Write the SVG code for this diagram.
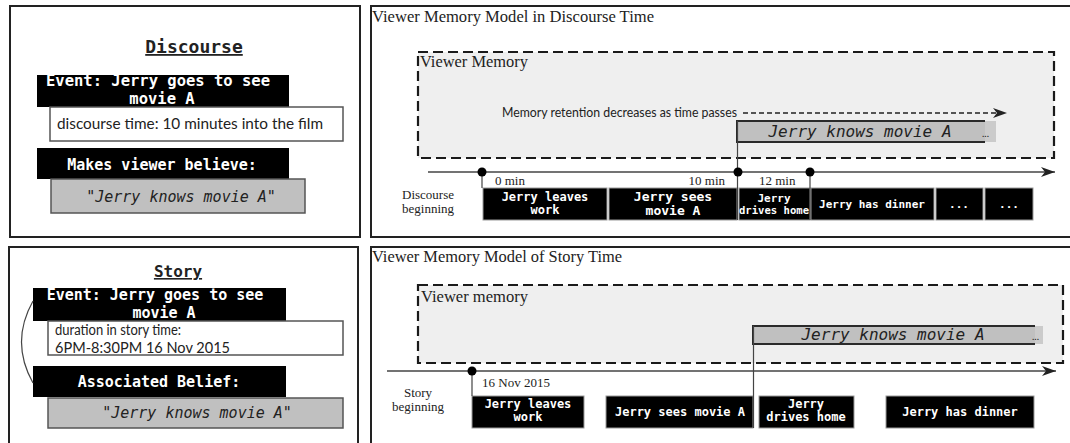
<svg xmlns="http://www.w3.org/2000/svg" width="1070" height="443" viewBox="0 0 1070 443">
<style>
.panel{fill:#fff;stroke:#222;stroke-width:2}
.blk{fill:#000;stroke:#9a9a9a;stroke-width:1}
.wbox{fill:#fff;stroke:#555;stroke-width:1.5}
.gbox{fill:#c0c0c0;stroke:#555;stroke-width:1.5}
.mem{fill:#efefef;stroke:#1a1a1a;stroke-width:2.2;stroke-dasharray:10 5}
.bar{fill:#c0c0c0}
.barx{fill:#cbcbcb}
.barb{fill:none;stroke:#2a2a2a;stroke-width:2}
.mono{font-family:"DejaVu Sans Mono","Liberation Mono",monospace;font-weight:bold;fill:#fff}
.it{font-family:"DejaVu Sans Mono","Liberation Mono",monospace;font-style:italic;fill:#222}
.head{font-family:"DejaVu Sans Mono","Liberation Mono",monospace;font-weight:bold;fill:#222;text-decoration:underline}
.sans{font-family:Lato,"Liberation Sans",sans-serif;fill:#222}
.ser{font-family:"Liberation Serif","DejaVu Serif",serif;fill:#222}
.tl{stroke:#444;stroke-width:1.5;fill:none}
.vl{stroke:#444;stroke-width:1.2;fill:none}
.dot{fill:#000}
.c{text-anchor:middle}
</style>
<defs>
<marker id="ah" markerUnits="userSpaceOnUse" markerWidth="15" markerHeight="10" refX="14" refY="5" orient="auto">
<path d="M0,0 L14,5 L0,10 L4,5 z" fill="#222"/>
</marker>
</defs>

<!-- Top-left: Discourse -->
<g id="discourse-panel">
<rect class="panel" x="10" y="6" width="350" height="231"/>
<text class="head c" x="194" y="53" font-size="18">Discourse</text>
</g>
<g id="discourse-event">
<rect x="37" y="75" width="252" height="32" fill="#000"/>
<text class="mono c" x="158" y="86" font-size="15.5">Event: Jerry goes to see</text>
<text class="mono c" x="162" y="103.5" font-size="15.5">movie A</text>
</g>
<g id="discourse-time">
<rect class="wbox" x="50" y="107" width="293" height="34"/>
<text class="sans" x="57" y="129" font-size="14.5" textLength="266" lengthAdjust="spacingAndGlyphs">discourse time: 10 minutes into the film</text>
</g>
<g id="discourse-makes">
<rect x="37" y="148" width="252" height="31" fill="#000"/>
<text class="mono c" x="162" y="170" font-size="15">Makes viewer believe:</text>
</g>
<g id="discourse-belief">
<rect class="gbox" x="51" y="179" width="254" height="34"/>
<text class="it c" x="181" y="202" font-size="15">"Jerry knows movie A"</text>
</g>

<!-- Bottom-left: Story -->
<g id="story-panel">
<rect class="panel" x="9" y="247" width="349" height="210"/>
<text class="head c" x="178" y="277" font-size="16">Story</text>
</g>
<g id="story-event">
<rect x="33" y="288" width="253" height="33" fill="#000"/>
<text class="mono c" x="155" y="300" font-size="15">Event: Jerry goes to see</text>
<text class="mono c" x="164" y="317.5" font-size="15">movie A</text>
</g>
<g id="story-duration">
<rect class="wbox" x="48" y="321" width="295" height="34"/>
<text class="sans" x="55" y="335" font-size="14.5" textLength="126" lengthAdjust="spacingAndGlyphs">duration in story time:</text>
<text class="sans" x="55" y="353" font-size="14.5" textLength="175" lengthAdjust="spacingAndGlyphs">6PM-8:30PM 16 Nov 2015</text>
</g>
<g id="story-assoc">
<rect x="33" y="366" width="253" height="31" fill="#000"/>
<text class="mono c" x="159" y="387" font-size="15">Associated Belief:</text>
</g>
<g id="story-belief">
<rect class="gbox" x="48" y="398" width="295" height="30"/>
<text class="it c" x="197" y="418" font-size="15">"Jerry knows movie A"</text>
</g>

<!-- Top-right: Discourse time memory model -->
<g id="discourse-model-panel">
<rect class="panel" x="371" y="6" width="720" height="231"/>
<text class="ser" x="372" y="22" font-size="16" textLength="282" lengthAdjust="spacingAndGlyphs">Viewer Memory Model in Discourse Time</text>
</g>
<g id="viewer-memory-d">
<rect class="mem" x="418" y="52" width="636" height="106"/>
<text class="ser" x="420" y="67" font-size="16" textLength="108" lengthAdjust="spacingAndGlyphs">Viewer Memory</text>
<text class="sans" x="502" y="117" font-size="12.5" textLength="235" lengthAdjust="spacingAndGlyphs">Memory retention decreases as time passes</text>
</g>
<g id="belief-bar-d">
<rect class="barx" x="985" y="121" width="11" height="21"/>
<rect class="bar" x="737" y="121" width="248" height="21"/>
<path class="barb" d="M985,121 H737 V142 H985"/>
<text class="it c" x="860" y="137" font-size="16">Jerry knows movie A</text>
<text class="sans" x="982" y="137" font-size="10" fill="#555">...</text>
</g>
<g id="d-label-start">
<text class="ser c" x="428" y="199" font-size="13">Discourse</text>
<text class="ser c" x="428" y="213" font-size="13">beginning</text>
<text class="ser" x="495" y="185" font-size="13">0 min</text>
<text class="ser" x="725" y="185" font-size="13" text-anchor="end">10 min</text>
<text class="ser" x="759" y="185" font-size="13">12 min</text>
</g>
<g id="d-ev1">
<rect class="blk" x="483" y="188" width="124" height="32"/>
<text class="mono c" x="545" y="201" font-size="12">Jerry leaves</text>
<text class="mono c" x="545" y="214" font-size="12">work</text>
</g>
<g id="d-ev2">
<rect class="blk" x="609" y="188" width="128" height="32"/>
<text class="mono c" x="673" y="201" font-size="13">Jerry sees</text>
<text class="mono c" x="673" y="215" font-size="13">movie A</text>
</g>
<g id="d-ev3">
<rect class="blk" x="739" y="188" width="71" height="32"/>
<text class="mono c" x="774" y="202" font-size="11">Jerry</text>
<text class="mono c" x="774" y="214" font-size="11" textLength="70" lengthAdjust="spacingAndGlyphs">drives home</text>
</g>
<g id="d-ev4">
<rect class="blk" x="811" y="188" width="123" height="32"/>
<text class="mono c" x="872" y="208" font-size="11">Jerry has dinner</text>
</g>
<g id="d-ev5">
<rect class="blk" x="936" y="188" width="47" height="32"/>
<text class="mono c" x="959" y="208" font-size="11">...</text>
</g>
<g id="d-ev6">
<rect class="blk" x="985" y="188" width="48" height="32"/>
<text class="mono c" x="1009" y="208" font-size="11">...</text>
</g>

<!-- Bottom-right: Story time memory model -->
<g id="story-model-panel">
<rect class="panel" x="371" y="247" width="720" height="210"/>
<text class="ser" x="372" y="262" font-size="16" textLength="250" lengthAdjust="spacingAndGlyphs">Viewer Memory Model of Story Time</text>
</g>
<g id="viewer-memory-s">
<rect class="mem" x="418" y="285" width="645" height="78"/>
<text class="ser" x="421" y="302" font-size="16" textLength="107" lengthAdjust="spacingAndGlyphs">Viewer memory</text>
</g>
<g id="belief-bar-s">
<rect class="barx" x="1035" y="326" width="8" height="18"/>
<rect class="bar" x="753" y="326" width="282" height="18"/>
<path class="barb" d="M1035,326 H753 V344 H1035"/>
<text class="it c" x="893" y="340" font-size="16">Jerry knows movie A</text>
<text class="sans" x="1032" y="340" font-size="10" fill="#555">...</text>
</g>
<g id="s-label-start">
<text class="ser c" x="418" y="397" font-size="13">Story</text>
<text class="ser c" x="418" y="411" font-size="13">beginning</text>
<text class="ser" x="482" y="387" font-size="13">16 Nov 2015</text>
</g>
<g id="s-ev1">
<rect class="blk" x="472" y="396" width="112" height="32"/>
<text class="mono c" x="528" y="408" font-size="12">Jerry leaves</text>
<text class="mono c" x="528" y="421" font-size="12">work</text>
</g>
<g id="s-ev2">
<rect class="blk" x="606" y="396" width="147" height="32"/>
<text class="mono c" x="680" y="416" font-size="12">Jerry sees movie A</text>
</g>
<g id="s-ev3">
<rect class="blk" x="759" y="396" width="95" height="32"/>
<text class="mono c" x="806" y="408" font-size="12">Jerry</text>
<text class="mono c" x="806" y="421" font-size="12">drives home</text>
</g>
<g id="s-ev4">
<rect class="blk" x="886" y="396" width="148" height="32"/>
<text class="mono c" x="960" y="416" font-size="12">Jerry has dinner</text>
</g>

<!-- Connectors -->
<g id="connectors">
<path d="M33,301 Q10,342 33,383" fill="none" stroke="#444" stroke-width="1.2"/>
<line x1="743" y1="113" x2="1007" y2="113" stroke="#222" stroke-width="1.5" stroke-dasharray="5 3" marker-end="url(#ah)"/>
<line class="tl" x1="428" y1="172" x2="1055" y2="172" marker-end="url(#ah)"/>
<line class="vl" x1="482" y1="172" x2="482" y2="188"/>
<line class="vl" x1="737.5" y1="121" x2="737.5" y2="220"/>
<line class="vl" x1="810" y1="172" x2="810" y2="220"/>
<circle class="dot" cx="482" cy="172" r="4.5"/>
<circle class="dot" cx="738" cy="172" r="4.5"/>
<circle class="dot" cx="810" cy="172" r="4.5"/>
<line class="tl" x1="387" y1="371" x2="1056" y2="371" marker-end="url(#ah)"/>
<line class="vl" x1="472" y1="371" x2="472" y2="396"/>
<line class="vl" x1="753.5" y1="326" x2="753.5" y2="428"/>
<circle class="dot" cx="472" cy="371" r="4.5"/>
</g>
</svg>
